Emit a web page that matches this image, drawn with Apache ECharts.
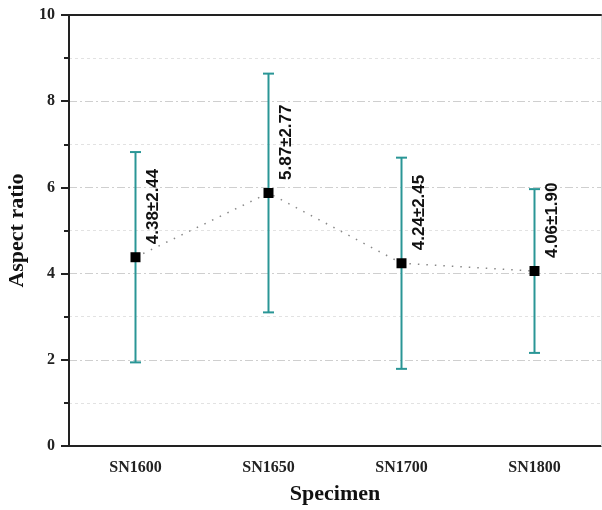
<!DOCTYPE html>
<html>
<head>
<meta charset="utf-8">
<script src="https://cdn.jsdelivr.net/npm/echarts@6/dist/echarts.min.js"></script>
<style>html,body{margin:0;padding:0;background:#fff}#c{width:602px;height:510px}</style>
</head>
<body>
<div id="c"></div>
<script>
var categories = ['SN1600', 'SN1650', 'SN1700', 'SN1800'];
var means = [4.38, 5.87, 4.24, 4.06];
var sds = [2.44, 2.77, 2.45, 1.90];
var yTicks = [0, 2, 4, 6, 8, 10];

var errData = categories.map(function (c, i) {
  return [i, means[i] - sds[i], means[i] + sds[i], means[i], sds[i]];
});

var chart = echarts.init(document.getElementById('c'), null, {renderer: 'canvas'});
var serif = '"Liberation Serif", "Times New Roman", serif';
chart.setOption({
  animation: false,
  grid: {left: 69, right: 1, top: 15, bottom: 64, containLabel: false, outerBoundsMode: 'none'},
  xAxis: [{
    type: 'category',
    data: categories,
    boundaryGap: true,
    name: 'Specimen',
    nameLocation: 'middle',
    nameGap: 37,
    nameTextStyle: {fontFamily: serif, fontWeight: 'bold', fontSize: 22, color: '#111'},
    axisLine: {lineStyle: {color: '#222', width: 2}},
    axisTick: {alignWithLabel: true, length: 8, lineStyle: {color: '#222', width: 2}},
    axisLabel: {fontFamily: serif, fontWeight: 'bold', fontSize: 16, color: '#222', margin: 14},
    splitLine: {show: false}
  }, {
    type: 'category',
    data: categories,
    position: 'top',
    z: 10,
    axisLine: {show: true, onZero: false, lineStyle: {color: '#222', width: 2}},
    axisTick: {show: false},
    axisLabel: {show: false},
    splitLine: {show: false}
  }],
  yAxis: [{
    type: 'value',
    min: yTicks[0],
    max: yTicks[yTicks.length - 1],
    interval: 2,
    name: 'Aspect ratio',
    nameLocation: 'middle',
    nameGap: 40,
    nameTextStyle: {fontFamily: serif, fontWeight: 'bold', fontSize: 22, color: '#111'},
    axisLine: {show: true, lineStyle: {color: '#222', width: 2}},
    axisTick: {show: true, length: 8, lineStyle: {color: '#222', width: 2}},
    minorTick: {show: true, splitNumber: 2, length: 5, lineStyle: {color: '#222', width: 2}},
    axisLabel: {fontFamily: serif, fontWeight: 'bold', fontSize: 16, color: '#222', margin: 14},
    splitLine: {show: true, lineStyle: {color: '#cfcfcf', width: 1, type: [8, 3, 2, 3]}},
    minorSplitLine: {show: true, lineStyle: {color: '#e2e2e2', width: 1, type: [3, 3]}}
  }, {
    type: 'value',
    min: yTicks[0],
    max: yTicks[yTicks.length - 1],
    position: 'right',
    z: 10,
    axisLine: {show: true, onZero: false, lineStyle: {color: '#d8d8d8', width: 1}},
    axisTick: {show: false},
    axisLabel: {show: false},
    splitLine: {show: false}
  }],
  series: [
    {
      type: 'custom',
      data: errData,
      z: 2,
      renderItem: function (params, api) {
        var x = api.value(0);
        var lo = api.coord([x, api.value(1)]);
        var hi = api.coord([x, api.value(2)]);
        var mid = api.coord([x, api.value(3)]);
        var cap = 5.5;
        var col = '#2a9696';
        var st = {stroke: col, lineWidth: 2};
        var txt = api.value(3).toFixed(2) + '±' + api.value(4).toFixed(2);
        return {
          type: 'group',
          children: [
            {type: 'line', shape: {x1: lo[0], y1: lo[1], x2: hi[0], y2: hi[1]}, style: st},
            {type: 'line', shape: {x1: lo[0] - cap, y1: lo[1], x2: lo[0] + cap, y2: lo[1]}, style: st},
            {type: 'line', shape: {x1: hi[0] - cap, y1: hi[1], x2: hi[0] + cap, y2: hi[1]}, style: st},
            {type: 'text', x: mid[0] + 18, y: mid[1] - 13, rotation: Math.PI / 2,
              style: {text: txt, fill: '#111', font: 'bold 17px "Liberation Sans", Arial, sans-serif',
                align: 'left', verticalAlign: 'middle'}}
          ]
        };
      }
    },
    {
      type: 'line',
      data: means,
      z: 3,
      symbol: 'rect',
      symbolSize: 10,
      itemStyle: {color: '#000'},
      lineStyle: {color: '#888', width: 1.5, type: [1.5, 7]}
    }
  ]
});
</script>
</body>
</html>
